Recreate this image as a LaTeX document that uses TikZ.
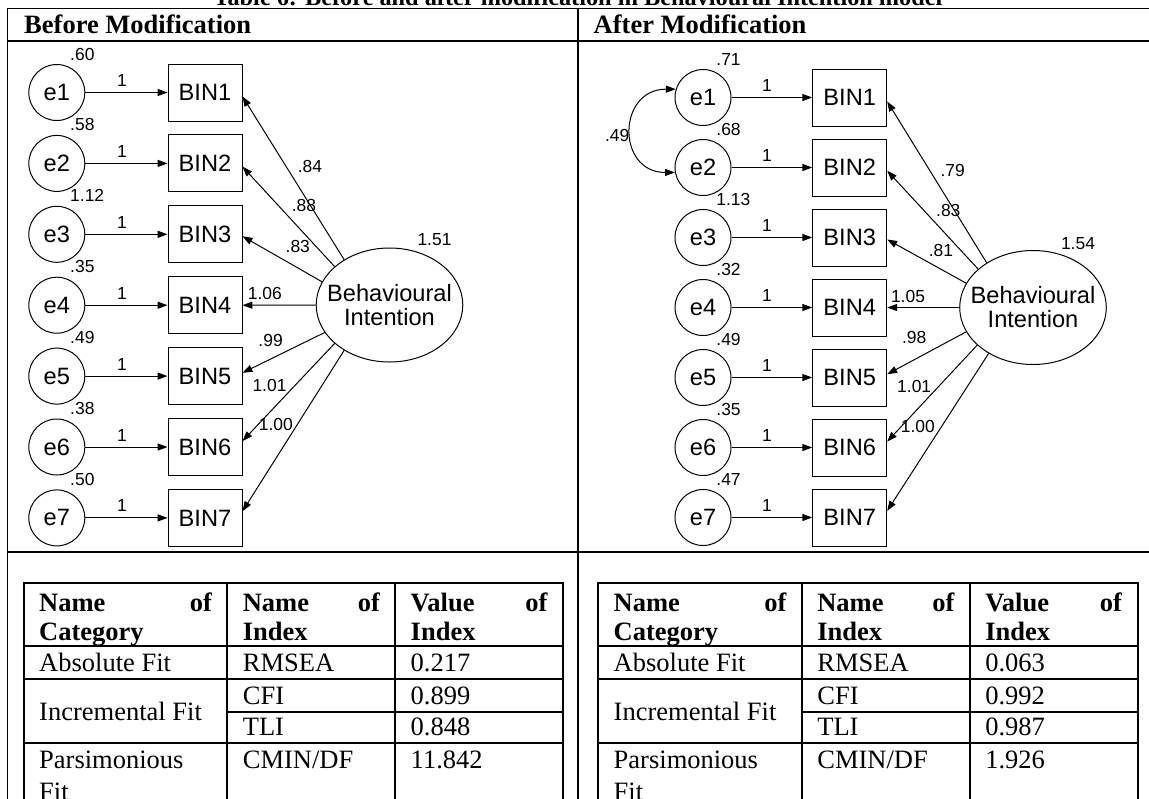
\documentclass[tikz,border=0pt]{standalone}
\usepackage{fontspec}
\setmainfont{Liberation Serif}
\newfontfamily\amosfont{Liberation Sans}
\usepackage{tikz}
\usetikzlibrary{arrows.meta,shapes.geometric}

\newcommand{\px}{0.4528pt}
\tikzset{
  tabline/.style={line width=0.9pt},
  tabcell/.style={inner sep=0pt, font=\fontsize{12}{14}\selectfont},
  tabhead/.style={inner sep=0pt, font=\fontsize{12}{14}\selectfont\bfseries},
  errvar/.style={circle, draw, line width=0.45pt, minimum size=56*\px, inner sep=0pt, font=\amosfont\fontsize{10.7}{12}\selectfont},
  observed/.style={rectangle, draw, line width=0.45pt, minimum width=74*\px, minimum height=57*\px, inner sep=0pt, font=\amosfont\fontsize{10.7}{12}\selectfont},
  latent/.style={ellipse, draw, line width=0.45pt, minimum width=146.6*\px, minimum height=114*\px, inner sep=0pt},
  est/.style={inner sep=0pt, font=\amosfont\fontsize{7.9}{9}\selectfont},
  semarrow/.style={-{Triangle[length=4.5pt,width=3.2pt]}, line width=0.45pt},
  semcov/.style={{Triangle[length=4.5pt,width=3.2pt]}-{Triangle[length=4.5pt,width=3.2pt]}, line width=0.45pt},
}

\begin{document}
\begin{tikzpicture}[x=\px,y=-\px]
  \useasboundingbox (0,0) rectangle (1149,798);
  % caption and outer frame
  \node[anchor=base, inner sep=0pt, font=\fontsize{11}{13}\selectfont\bfseries] (caption) at (578,5) {Table 6: Before and after modification in Behavioural Intention model};
  \draw[tabline] (7.5,805) -- (7.5,8.5) -- (1160,8.5);
  \draw[tabline] (7.5,40.7) -- (1160,40.7);
  \draw[tabline] (7.5,552.3) -- (1160,552.3);
  \draw[tabline] (578,8.5) -- (578,805);
  \node[tabhead, anchor=base west] (hbefore) at (23.8,33.3) {Before Modification};
  \node[tabhead, anchor=base west] (hafter) at (593.3,33.3) {After Modification};

  % before modification
  \foreach \i/\val in {1/.60,2/.58,3/1.12,4/.35,5/.49,6/.38,7/.50}{
    \pgfmathsetmacro{\yy}{92.5+70.9*(\i-1)}
    \node[errvar] (le\i) at (56.8,\yy) {e\i};
    \node[observed] (lbin\i) at (205,\yy) {BIN\i};
    \draw[semarrow] (le\i) -- (lbin\i);
    \node[est] (lw\i) at (122,\yy-12) {1};
    \node[est, anchor=west] (lv\i) at (69.8,\yy-38.5) {\val};
  }
  \node[latent] (lbi) at (389.5,305) {};
  \node[align=center, inner sep=0pt, font=\amosfont\fontsize{10.7}{10.9}\selectfont] (lbitext) at (lbi) {Behavioural\\Intention};
  \node[est] (lbivar) at (434.5,239.3) {1.51};
  \foreach \i/\ang/\tip/\lx/\ly/\val in {1/135/354/310/166.7/.84,2/145/355/304/205/.88,3/161/357/297.8/246.7/.83,4/180/0/264.8/293.3/1.06,5/203/5/270.6/340/.99,6/215/9/269.5/385/1.01,7/225/10/275.8/424/1.00}{
    \draw[semarrow] (lbi.\ang) -- (lbin\i.\tip);
    \node[est] (ll\i) at (\lx,\ly) {\val};
  }

  % after modification
  \foreach \i/\val in {1/.71,2/.68,3/1.13,4/.32,5/.49,6/.35,7/.47}{
    \pgfmathsetmacro{\yy}{97.5+70*(\i-1)}
    \node[errvar] (re\i) at (703,\yy) {e\i};
    \node[observed] (rbin\i) at (849.7,\yy) {BIN\i};
    \draw[semarrow] (re\i) -- (rbin\i);
    \node[est] (rw\i) at (767,\yy-12) {1};
    \node[est, anchor=west] (rv\i) at (716,\yy-38) {\val};
  }
  \draw[semcov] (re1.163) to[out=180,in=180,looseness=1.8] (re2.190);
  \node[est] (rcov) at (617.2,135) {.49};
  \node[latent] (rbi) at (1033,307.5) {};
  \node[align=center, inner sep=0pt, font=\amosfont\fontsize{10.7}{10.9}\selectfont] (rbitext) at (rbi) {Behavioural\\Intention};
  \node[est] (rbivar) at (1078,243.3) {1.54};
  \foreach \i/\ang/\tip/\lx/\ly/\val in {1/136/354/952.7/170.7/.79,2/145/355/948.3/210/.83,3/160/357/941/250.7/.81,4/180/0/908/296.7/1.05,5/200/5/914.2/337.3/.98,6/214/9/914.2/386/1.01,7/226/10/917.9/426/1.00}{
    \draw[semarrow] (rbi.\ang) -- (rbin\i.\tip);
    \node[est] (rl\i) at (\lx,\ly) {\val};
  }

  % fit indices tables
  \foreach \tb/\dx/\va/\vb/\vc/\vdd in {l/0/0.217/0.899/0.848/11.842,r/574.5/0.063/0.992/0.987/1.926}{
    \pgfmathsetmacro{\xa}{23.8+\dx}
    \pgfmathsetmacro{\xb}{227.4+\dx}
    \pgfmathsetmacro{\xc}{395.3+\dx}
    \pgfmathsetmacro{\xd}{563+\dx}
    \draw[tabline] (\xa,805) -- (\xa,583.3) -- (\xd,583.3) -- (\xd,805);
    \draw[tabline] (\xb,583.3) -- (\xb,805);
    \draw[tabline] (\xc,583.3) -- (\xc,805);
    \draw[tabline] (\xa,646.3) -- (\xd,646.3);
    \draw[tabline] (\xa,679.3) -- (\xd,679.3);
    \draw[tabline] (\xb,711.7) -- (\xd,711.7);
    \draw[tabline] (\xa,742.7) -- (\xd,742.7);
    \foreach \n/\xl/\xr/\wa/\wb in {1/\xa/\xb/Name/Category,2/\xb/\xc/Name/Index,3/\xc/\xd/Value/Index}{
      \node[tabhead, anchor=base west] (\tb h\n a) at (\xl+15,611.7) {\wa};
      \node[tabhead, anchor=base east] (\tb h\n b) at (\xr-15,611.7) {of};
      \node[tabhead, anchor=base west] (\tb h\n c) at (\xl+15,640) {\wb};
    }
    \node[tabcell, anchor=base west] (\tb abs) at (\xa+15,671.7) {Absolute Fit};
    \node[tabcell, anchor=base west] (\tb rmsea) at (\xb+15,671.7) {RMSEA};
    \node[tabcell, anchor=base west] (\tb rmseav) at (\xc+15,671.7) {\va};
    \node[tabcell, anchor=base west] (\tb inc) at (\xa+15,720) {Incremental Fit};
    \node[tabcell, anchor=base west] (\tb cfi) at (\xb+15,704.3) {CFI};
    \node[tabcell, anchor=base west] (\tb cfiv) at (\xc+15,704.3) {\vb};
    \node[tabcell, anchor=base west] (\tb tli) at (\xb+15,735.5) {TLI};
    \node[tabcell, anchor=base west] (\tb tliv) at (\xc+15,735.5) {\vc};
    \node[tabcell, anchor=base west] (\tb par) at (\xa+15,768) {Parsimonious};
    \node[tabcell, anchor=base west] (\tb parb) at (\xa+15,800) {Fit};
    \node[tabcell, anchor=base west] (\tb cmin) at (\xb+15,768) {CMIN/DF};
    \node[tabcell, anchor=base west] (\tb cminv) at (\xc+15,768) {\vdd};
  }
\end{tikzpicture}
\end{document}
